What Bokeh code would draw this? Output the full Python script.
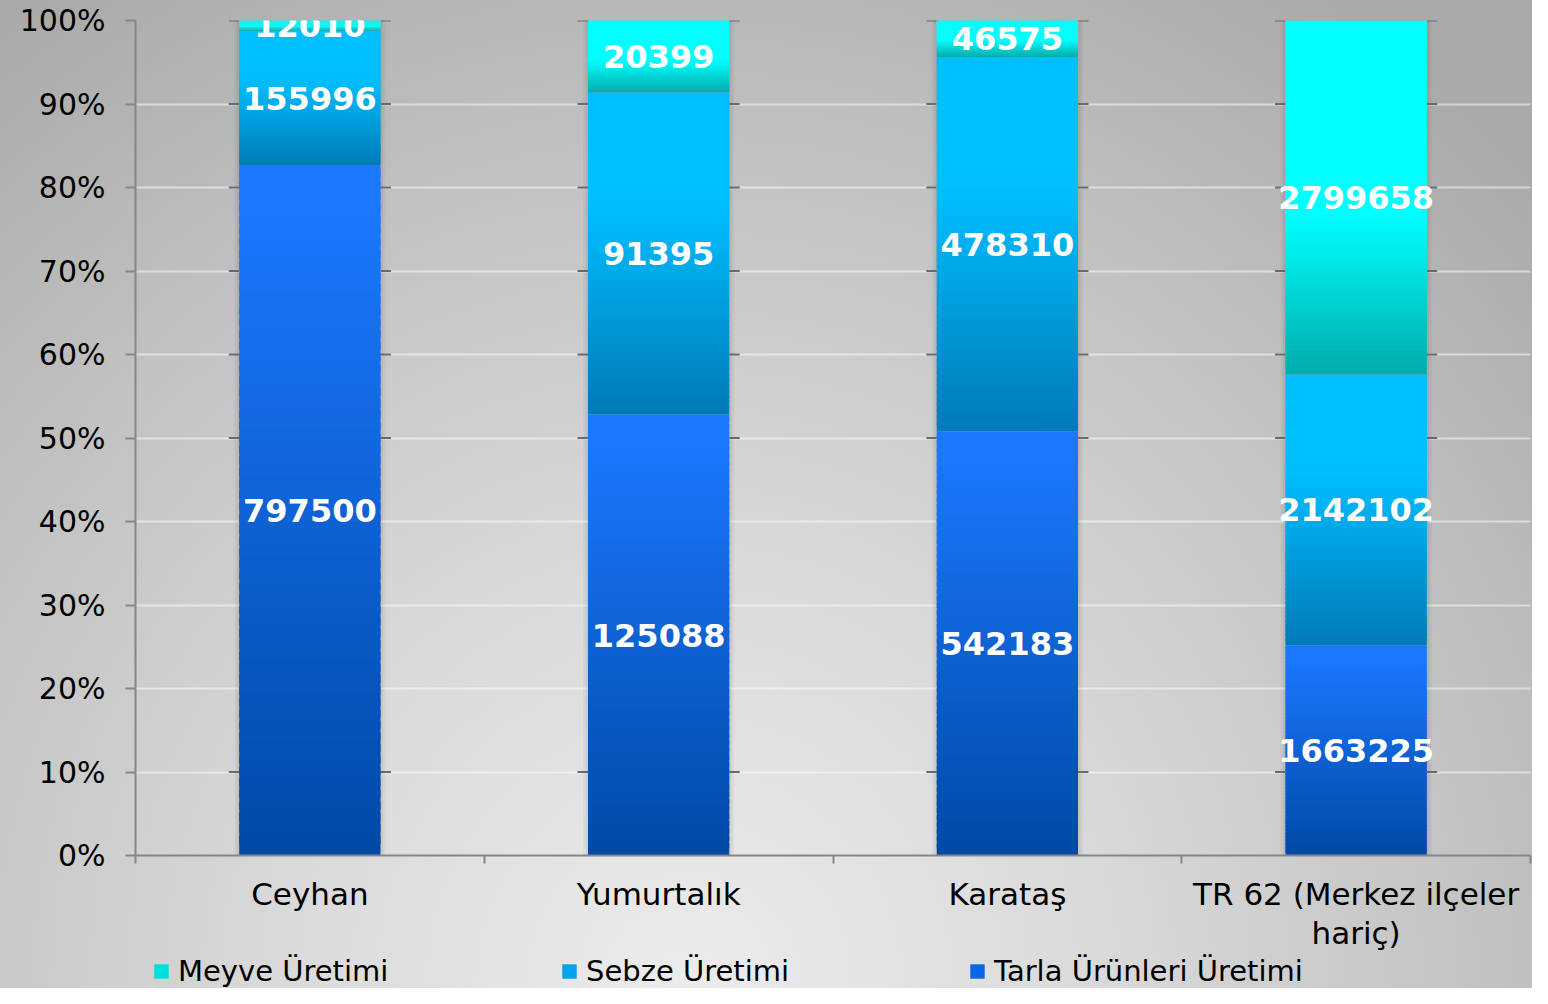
import numpy as np
from bokeh.plotting import figure
from bokeh.layouts import column
from bokeh.models import (Range1d, FixedTicker, PrintfTickFormatter, ColumnDataSource,
                          Legend, LegendItem)
from bokeh.core.properties import value
from bokeh.embed import file_html
from bokeh.resources import INLINE

# ---------------- data ----------------
categories = ["Ceyhan", "Yumurtalık", "Karataş", "TR 62 (Merkez ilçeler\nhariç)"]
tarla = [797500, 125088, 542183, 1663225]   # Tarla Ürünleri Üretimi
sebze = [155996, 91395, 478310, 2142102]    # Sebze Üretimi
meyve = [12010, 20399, 46575, 2799658]      # Meyve Üretimi
series_names = ["Tarla Ürünleri Üretimi", "Sebze Üretimi", "Meyve Üretimi"]
legend_order = ["Meyve Üretimi", "Sebze Üretimi", "Tarla Ürünleri Üretimi"]
y_ticks = [0, 10, 20, 30, 40, 50, 60, 70, 80, 90, 100]
marked_ticks = [10, 50, 60, 70, 80, 90, 100]

# ---------------- style ----------------
FONT = "DejaVu Sans"
BAR_W = 0.405
styles_by_series = {
    # top colour, bottom colour, flat top fraction, legend colour
    "Tarla Ürünleri Üretimi": ("#1b79ff", "#0049a6", 0.05, "#0a64e6"),
    "Sebze Üretimi": ("#00bfff", "#007ab8", 0.35, "#00a4e8"),
    "Meyve Üretimi": ("#00ffff", "#00abab", 0.55, "#00dede"),
}
N_STRIPS = 60
BG = ("radial-gradient(ellipse 75% 120% at 45% 100%, #ececec 0%, #dadada 35%, "
      "#c2c2c2 70%, #aaaaaa 100%)")


def hex2rgb(h):
    h = h.lstrip("#")
    return np.array([int(h[i:i + 2], 16) for i in (0, 2, 4)], dtype=float)


def grad_color(top, bottom, f, flat):
    t, b = hex2rgb(top), hex2rgb(bottom)
    g = 1.0 if f >= 1 - flat else f / (1 - flat)
    c = b + (t - b) * g
    return "#%02x%02x%02x" % tuple(int(round(v)) for v in c)


# ---------------- computation ----------------
xs = [i + 0.5 for i in range(len(categories))]
series_vals = [tarla, sebze, meyve]
totals = [sum(v) for v in zip(*series_vals)]
pcts = [[v / t * 100 for v, t in zip(vals, totals)] for vals in series_vals]

p = figure(width=1532, height=954, x_range=Range1d(0, len(categories)), y_range=Range1d(0, 100),
           output_backend="svg", toolbar_location=None,
           min_border_left=135, min_border_right=2, min_border_top=20, min_border_bottom=99,
           border_fill_color=None, background_fill_color=None, outline_line_color=None)

# grid
p.xgrid.visible = False
p.ygrid.ticker = FixedTicker(ticks=y_ticks)
p.ygrid.grid_line_color = "white"
p.ygrid.grid_line_alpha = 0.5
p.ygrid.grid_line_width = 2

# soft bar shadows
for extra, alpha in [(0.028, 0.04), (0.014, 0.05)]:
    p.vbar(x=xs, bottom=0, top=100, width=BAR_W + extra, fill_color="black", fill_alpha=alpha,
           line_color=None)

# dark marks beside bars at some gridlines
sx0, sx1, sy = [], [], []
for x in xs:
    for t in marked_ticks:
        sx0 += [x - BAR_W / 2 - 0.03, x + BAR_W / 2]
        sx1 += [x - BAR_W / 2, x + BAR_W / 2 + 0.03]
        sy += [t, t]
p.segment(x0=sx0, y0=sy, x1=sx1, y1=sy, line_color="#6a6a6a", line_width=2)

# stacked bars with vertical gradient (thin overlapping strips)
bottoms = [0.0] * len(categories)
label_x, label_y, label_t = [], [], []
for name, vals, pc in zip(series_names, series_vals, pcts):
    top_c, bot_c, flat, mid_c = styles_by_series[name]
    tops = [b + v for b, v in zip(bottoms, pc)]
    strip_x, strip_b, strip_t, strip_c = [], [], [], []
    for x, b, t in zip(xs, bottoms, tops):
        h = (t - b) / N_STRIPS
        for k in range(N_STRIPS):
            f = (k + 0.5) / N_STRIPS
            strip_x.append(x)
            strip_b.append(b + k * h)
            strip_t.append(b + min(k + 1.7, N_STRIPS) * h)
            strip_c.append(grad_color(top_c, bot_c, f, flat))
    src = ColumnDataSource(dict(x=strip_x, bottom=strip_b, top=strip_t, color=strip_c))
    p.vbar(x="x", bottom="bottom", top="top", width=BAR_W, fill_color="color",
           line_color=None, source=src)
    for x, b, t, v in zip(xs, bottoms, tops, vals):
        label_x.append(x)
        label_y.append((b + t) / 2)
        label_t.append(str(v))
    bottoms = tops

p.text(x=label_x, y=label_y, text=label_t, text_align="center", text_baseline="middle",
       text_color="white", text_font=value(FONT), text_font_style="bold",
       text_font_size="32px")

# axes
xa = p.xaxis[0]
xa.ticker = FixedTicker(ticks=xs, minor_ticks=list(range(len(categories) + 1)))
xa.major_label_overrides = {x: c for x, c in zip(xs, categories)}
xa.major_tick_line_color = None
xa.major_tick_out = 0
xa.major_tick_in = 0
xa.minor_tick_out = 8
xa.minor_tick_in = 0
xa.minor_tick_line_color = "#868686"
xa.minor_tick_line_width = 2
xa.axis_line_color = "#868686"
xa.axis_line_width = 2
xa.major_label_text_font = FONT
xa.major_label_text_font_size = "31px"
xa.major_label_text_color = "black"
xa.major_label_text_line_height = 1.1
xa.major_label_standoff = 12

ya = p.yaxis[0]
ya.ticker = FixedTicker(ticks=y_ticks, minor_ticks=[])
ya.formatter = PrintfTickFormatter(format="%d%%")
ya.major_tick_out = 10
ya.major_tick_in = 0
ya.major_tick_line_color = "#868686"
ya.major_tick_line_width = 2
ya.axis_line_color = "#868686"
ya.axis_line_width = 2
ya.major_label_text_font = FONT
ya.major_label_text_font_size = "30px"
ya.major_label_text_color = "black"
ya.major_label_standoff = 20

# legend strip (separate figure below the chart; its frame aligns with the chart frame)
lf = figure(width=1532, height=34, x_range=Range1d(0, 1), y_range=Range1d(0, 1),
            output_backend="svg", toolbar_location=None, x_axis_type=None, y_axis_type=None,
            min_border=0, border_fill_color=None, background_fill_color=None,
            outline_line_color=None)
lf.xgrid.visible = False
lf.ygrid.visible = False
items = []
for n in legend_order:
    top_c, bot_c, flat, mid_c = styles_by_series[n]
    r = lf.rect(x=[-5], y=[-5], width=1, height=1, fill_color=mid_c, line_color=None)
    items.append(LegendItem(label=n, renderers=[r]))
legend = Legend(items=items, orientation="horizontal", location=(17, 0),
                glyph_width=18, glyph_height=18, label_standoff=8, label_width=382,
                label_height=34, spacing=0, padding=0, margin=0,
                border_line_color=None, background_fill_alpha=0,
                label_text_font=FONT, label_text_font_size="29px", label_text_color="black")
lf.add_layout(legend)

layout = column(p, lf, spacing=0, styles={"background": BG})

open("out.html", "w").write(file_html(layout, INLINE))
